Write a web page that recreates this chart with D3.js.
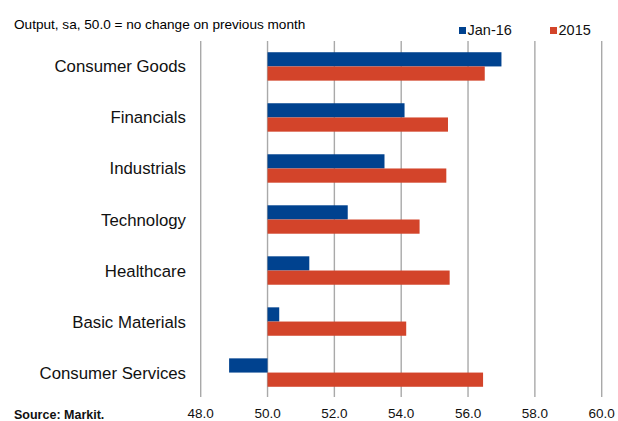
<!DOCTYPE html>
<html>
<head>
<meta charset="utf-8">
<script src="https://cdn.jsdelivr.net/npm/d3@7/dist/d3.min.js"></script>
<style>
  html, body { margin: 0; padding: 0; background: #fff; }
  svg { display: block; font-family: "Liberation Sans", Arial, sans-serif; }
</style>
</head>
<body>
<svg id="chart" width="618" height="421"></svg>
<script>
const categories = ["Consumer Goods", "Financials", "Industrials", "Technology", "Healthcare", "Basic Materials", "Consumer Services"];
const seriesNames = ["Jan-16", "2015"];
const jan16 = [57.0, 54.1, 53.5, 52.4, 51.25, 50.35, 48.85];
const y2015 = [56.5, 55.4, 55.35, 54.55, 55.45, 54.15, 56.45];
const tickValues = [48, 50, 52, 54, 56, 58, 60];
const colors = ["#00428f", "#d3442a"];
const baseline = 50;

const svg = d3.select("#chart");
const x = d3.scaleLinear().domain([48, 60]).range([200.7, 601.7]);
const y = d3.scaleBand().domain(categories).range([41, 398]).paddingInner(0.443).paddingOuter(0.22);
const ySub = d3.scaleBand().domain(seriesNames).range([0, y.bandwidth()]);

// gridlines
svg.append("g").selectAll("line").data(tickValues).join("line")
  .attr("x1", d => x(d)).attr("x2", d => x(d))
  .attr("y1", 41).attr("y2", 397)
  .attr("stroke", "#a9a9a9").attr("stroke-width", 1.4);

// bars
const series = [jan16, y2015];
series.forEach((vals, si) => {
  svg.append("g").selectAll("rect").data(vals).join("rect")
    .attr("x", d => x(Math.min(d, baseline)))
    .attr("width", d => Math.abs(x(d) - x(baseline)))
    .attr("y", (d, i) => y(categories[i]) + ySub(seriesNames[si]))
    .attr("height", ySub.bandwidth())
    .attr("fill", colors[si]);
});

// category labels
svg.append("g").selectAll("text").data(categories).join("text")
  .attr("x", 186)
  .attr("y", d => y(d) + y.bandwidth() / 2 + 6)
  .attr("text-anchor", "end")
  .attr("font-size", "16.8px")
  .attr("fill", "#111")
  .text(d => d);

// x tick labels
svg.append("g").selectAll("text").data(tickValues).join("text")
  .attr("x", d => x(d))
  .attr("y", 418)
  .attr("text-anchor", "middle")
  .attr("font-size", "13.5px")
  .attr("fill", "#111")
  .text(d => d3.format(".1f")(d));

// title
svg.append("text").attr("x", 14).attr("y", 29)
  .attr("font-size", "13.6px").attr("fill", "#000")
  .text("Output, sa, 50.0 = no change on previous month");

// legend
const legendX = [459, 550];
seriesNames.forEach((n, i) => {
  svg.append("rect").attr("x", legendX[i]).attr("y", 27).attr("width", 7).attr("height", 7).attr("fill", colors[i]);
  svg.append("text").attr("x", legendX[i] + 8.5).attr("y", 34.5)
    .attr("font-size", "14.5px").attr("fill", "#111").text(n);
});

// source
svg.append("text").attr("x", 14).attr("y", 419)
  .attr("font-size", "12.5px").attr("font-weight", "bold").attr("fill", "#111")
  .text("Source: Markit.");
</script>
</body>
</html>
